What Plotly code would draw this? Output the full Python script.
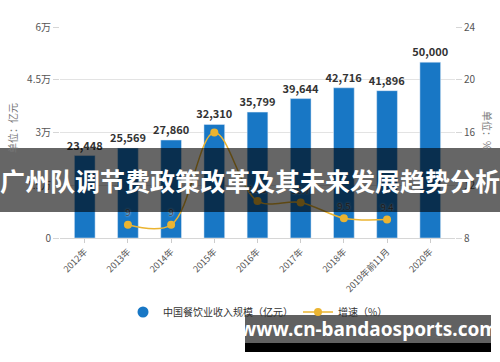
import plotly.graph_objects as go

categories = ["2012年", "2013年", "2014年", "2015年", "2016年", "2017年", "2018年", "2019年前11月", "2020年"]
revenue = [23448, 25569, 27860, 32310, 35799, 39644, 42716, 41896, 50000]
growth = [None, 9.0, 9.0, 16.0, 10.8, 10.7, 9.5, 9.4, None]
growth_labels = ["", "9", "9", "", "10.8", "10.7", "9.5", "9.4", ""]
left_ticks = [0, 15000, 30000, 45000, 60000]
left_tick_text = ["0", "1.5万", "3万", "4.5万", "6万"]
right_ticks = [8, 12, 16, 20, 24]

BLUE = "#1877c5"
GOLD = "#ebb431"
FONT = "Noto Sans CJK SC"

# plot area geometry (pixels)
L, R, T, B = 60, 45, 27, 124
W, H = 500, 362
PW, PH = W - L - R, H - T - B

def px(x):
    return (x - L) / PW

def py(y):
    return (H - B - y) / PH

fig = go.Figure()
fig.add_trace(go.Bar(
    x=categories, y=revenue, marker_color=BLUE, width=0.48,
    text=[f"<b>{v:,}</b>" for v in revenue], textposition="outside",
    textfont=dict(size=11, color="#333333", family=FONT),
    constraintext="none",
    cliponaxis=False, showlegend=False, name="中国餐饮业收入规模（亿元）",
))
fig.add_trace(go.Scatter(
    x=[None], y=[None], mode="markers",
    marker=dict(color=BLUE, size=11, symbol="circle"),
    name="中国餐饮业收入规模（亿元）",
))
fig.add_trace(go.Scatter(
    x=categories, y=growth, yaxis="y2", mode="lines+markers+text",
    line=dict(color=GOLD, width=1.5, shape="spline", smoothing=1.0),
    marker=dict(color=GOLD, size=8),
    text=growth_labels, textposition="top center",
    textfont=dict(size=9.5, color="#444444", family=FONT, shadow="0px 0px 2px white"),
    cliponaxis=False, connectgaps=False, name="增速（%）",
))

fig.update_layout(
    width=W, height=H, margin=dict(l=L, r=R, t=T, b=B, autoexpand=False),
    paper_bgcolor="white", plot_bgcolor="white",
    font=dict(family=FONT, size=10, color="#555555"),
    bargap=0.52,
    xaxis=dict(
        tickangle=-45, tickfont=dict(size=9, color="#555555"),
        ticks="outside", ticklen=4, tickcolor="#cccccc",
        showline=True, linecolor="#d6d6d6", showgrid=False, automargin=False,
    ),
    yaxis=dict(
        range=[0, 60000], tickvals=left_ticks, ticktext=left_tick_text,
        showgrid=True, gridcolor="#e3e3e3", zeroline=False,
        ticks="outside", ticklen=6, tickcolor="#d6d6d6",
        tickfont=dict(size=10, color="#555555"), automargin=False,
    ),
    yaxis2=dict(
        range=[8, 24], tickvals=right_ticks, overlaying="y", side="right",
        showgrid=False, zeroline=False,
        ticks="outside", ticklen=6, tickcolor="#d6d6d6",
        tickfont=dict(size=10, color="#555555"), automargin=False,
    ),
    legend=dict(
        orientation="h", x=px(258), xanchor="center", y=py(312), yanchor="middle",
        font=dict(size=10, color="#333333"), itemwidth=30,
        bgcolor="rgba(0,0,0,0)",
    ),
)

def ann(text, x, y, size, color, angle=0, family=FONT, xanchor="center"):
    return dict(text=text, x=px(x), y=py(y), xref="paper", yref="paper",
                xanchor=xanchor, yanchor="middle", showarrow=False, textangle=angle,
                font=dict(size=size, color=color, family=family))

annotations = [
    ann("单位：亿元", 13, 128, 10, "#777777", angle=-90),
    ann("单位：%", 488, 130, 10, "#777777", angle=90),
    ann("© 前瞻经济学人APP", 492, 332, 10, "#666666", xanchor="right"),
    ann("<b>广州队调节费政策改革及其未来发展趋势分析</b>", 250, 180, 25, "white"),
    ann("<b>www.cn-bandaosports.com</b>", 369, 329, 19, "white", family="Noto Sans"),
]
fig.update_layout(annotations=annotations)

shapes = [
    dict(type="rect", xref="paper", yref="paper", x0=px(0), x1=px(500),
         y0=py(212), y1=py(148), fillcolor="rgba(0,0,0,0.6)", line_width=0, layer="above"),
    dict(type="rect", xref="paper", yref="paper", x0=px(245), x1=px(491),
         y0=py(343), y1=py(315), fillcolor="rgba(0,0,0,0.62)", line_width=0, layer="above"),
    dict(type="rect", xref="paper", yref="paper", x0=px(245), x1=px(491),
         y0=py(352), y1=py(343), fillcolor="black", line_width=0, layer="above"),
]
fig.update_layout(shapes=shapes)

fig.write_html("out.html", config={"displayModeBar": False})
with open("out.html", encoding="utf-8") as f:
    html = f.read()
html = html.replace("<body>", '<body style="margin:0;padding:0;overflow:hidden">', 1)
with open("out.html", "w", encoding="utf-8") as f:
    f.write(html)
